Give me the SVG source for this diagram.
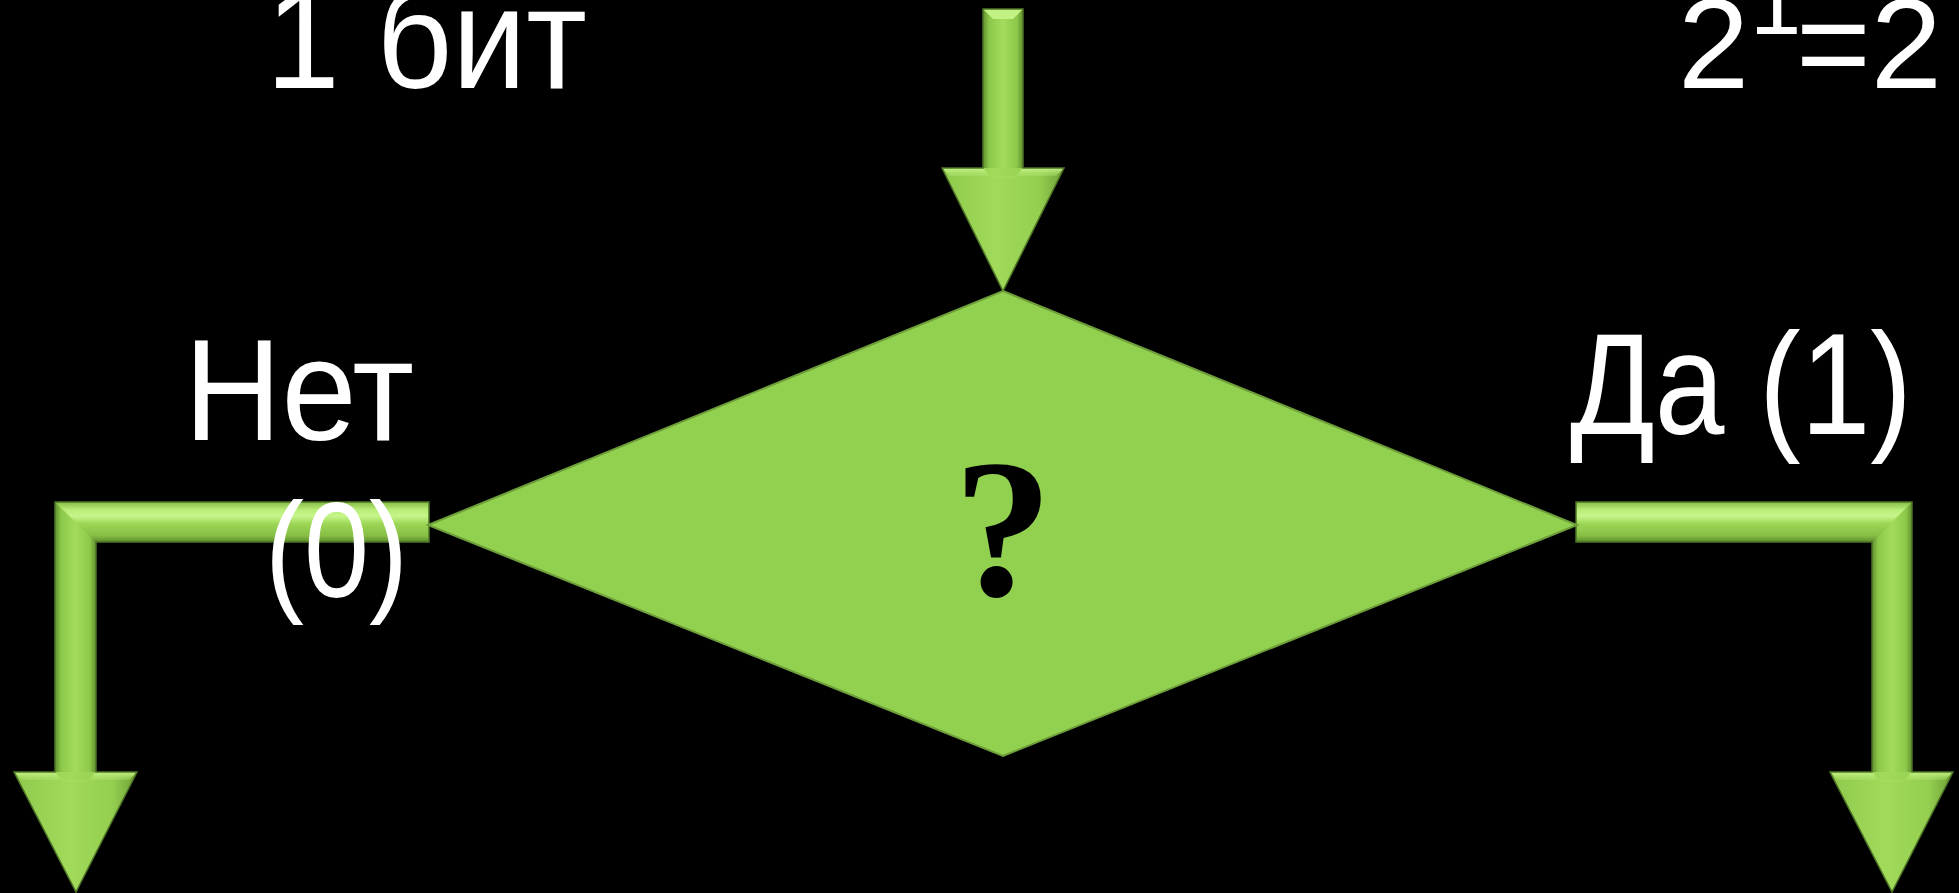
<svg xmlns="http://www.w3.org/2000/svg" width="1959" height="893" viewBox="0 0 1959 893">
  <style>
    .lbl { font-family: "Liberation Sans", Arial, sans-serif; fill: #ffffff; }
    .q { font-family: "Liberation Serif", "Times New Roman", serif; font-weight: bold; fill: #000000; }
    .outline { fill: none; stroke: #4d7426; stroke-width: 1.5; stroke-linejoin: miter; }
  </style>
  <defs>
    <linearGradient id="vshaft" x1="0" y1="0" x2="1" y2="0">
      <stop offset="0" stop-color="#5f8f2c"/>
      <stop offset="0.15" stop-color="#8cc84a"/>
      <stop offset="0.5" stop-color="#a3dc5c"/>
      <stop offset="0.85" stop-color="#8cc84a"/>
      <stop offset="1" stop-color="#5f8f2c"/>
    </linearGradient>
    <linearGradient id="hbar" x1="0" y1="0" x2="0" y2="1">
      <stop offset="0" stop-color="#86bd45"/>
      <stop offset="0.2" stop-color="#b9ee7a"/>
      <stop offset="0.35" stop-color="#c6f58a"/>
      <stop offset="0.55" stop-color="#9cd655"/>
      <stop offset="0.85" stop-color="#86bd45"/>
      <stop offset="1" stop-color="#5a8a2a"/>
    </linearGradient>
    <linearGradient id="head" x1="0" y1="0" x2="1" y2="0">
      <stop offset="0" stop-color="#8fca4c"/>
      <stop offset="0.45" stop-color="#a2da5b"/>
      <stop offset="0.8" stop-color="#94cf50"/>
      <stop offset="1" stop-color="#6e9f36"/>
    </linearGradient>
    <linearGradient id="headTop" x1="0" y1="0" x2="0" y2="1">
      <stop offset="0" stop-color="#c4f386"/>
      <stop offset="1" stop-color="#a6dd62" stop-opacity="0"/>
    </linearGradient>
  </defs>

  <rect x="0" y="0" width="1959" height="893" fill="#000000"/>

  <!-- connectors -->
  <g id="connectors">
    <!-- top arrow into diamond -->
    <g id="arrow-in">
      <rect x="983" y="9" width="40" height="160" fill="url(#vshaft)"/>
      <polygon points="983,9 1023,9 1013,19 993,19" fill="#c2f283"/>
      <polygon points="942,168 1064,168 1003,291" fill="url(#head)"/>
      <polygon points="942,168 983,168 993,180 1013,180 1023,168 1064,168 1056,176 950,176" fill="url(#headTop)"/>
      <path class="outline" d="M983,9 L1023,9 L1023,168 L1064,168 L1003,291 L942,168 L983,168 Z"/>
    </g>
    <!-- left (No) arrow -->
    <g id="arrow-no">
      <rect x="55" y="502" width="41" height="271" fill="url(#vshaft)"/>
      <rect x="55" y="502" width="374" height="40" fill="url(#hbar)"/>
      <polygon points="55,502 96,542 96,560 55,560" fill="url(#vshaft)"/>
      <polygon points="14,772 137,772 76,892" fill="url(#head)"/>
      <polygon points="14,772 55,772 65,784 86,784 96,772 137,772 129,780 22,780" fill="url(#headTop)"/>
      <path class="outline" d="M429,502 L55,502 L55,772 L14,772 L76,892 L137,772 L96,772 L96,542 L429,542 Z"/>
    </g>
    <!-- right (Yes) arrow -->
    <g id="arrow-yes">
      <rect x="1872" y="502" width="40" height="271" fill="url(#vshaft)"/>
      <rect x="1576" y="502" width="336" height="40" fill="url(#hbar)"/>
      <polygon points="1912,502 1872,542 1872,560 1912,560" fill="url(#vshaft)"/>
      <polygon points="1830,772 1953,772 1892,892" fill="url(#head)"/>
      <polygon points="1830,772 1872,772 1882,784 1902,784 1912,772 1953,772 1945,780 1838,780" fill="url(#headTop)"/>
      <path class="outline" d="M1576,502 L1912,502 L1912,772 L1953,772 L1892,892 L1830,772 L1872,772 L1872,542 L1576,542 Z"/>
    </g>
  </g>

  <!-- decision node -->
  <g id="decision">
    <polygon points="1003,291 1577,525 1003,756 428,525" fill="#92d050" stroke="#6e9e3a" stroke-width="2"/>
    <text class="q" x="1003" y="595" font-size="198" text-anchor="middle">?</text>
  </g>

  <!-- labels -->
  <g id="label-bits">
    <text class="lbl" x="266" y="88" font-size="144" textLength="321" lengthAdjust="spacingAndGlyphs">1 бит</text>
  </g>
  <g id="label-power">
    <text class="lbl" font-size="128"><tspan x="1678" y="88">2</tspan><tspan x="1750" y="34" font-size="92">1</tspan><tspan x="1796" y="88">=2</tspan></text>
  </g>
  <g id="label-no">
    <text class="lbl" x="184" y="440" font-size="144" textLength="230" lengthAdjust="spacingAndGlyphs">Нет</text>
    <text class="lbl" x="265" y="597" font-size="136" textLength="143" lengthAdjust="spacingAndGlyphs">(0)</text>
  </g>
  <g id="label-yes">
    <text class="lbl" x="1570" y="434" font-size="144" textLength="342" lengthAdjust="spacingAndGlyphs">Да (1)</text>
  </g>
</svg>
